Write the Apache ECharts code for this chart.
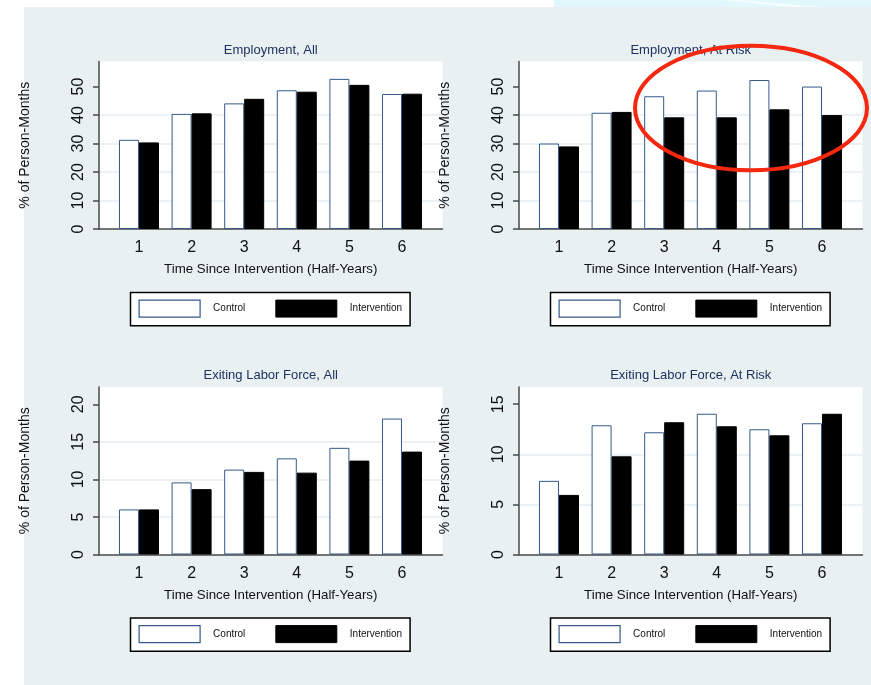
<!DOCTYPE html>
<html>
<head>
<meta charset="utf-8">
<script src="https://cdn.jsdelivr.net/npm/echarts@6/dist/echarts.min.js"></script>
<style>
  html, body { margin: 0; padding: 0; background: #ffffff; }
  #chart { width: 871px; height: 685px; }
</style>
</head>
<body>
<div id="chart"></div>
<script>
// Half-year periods since the intervention
const halfYears = ['1', '2', '3', '4', '5', '6'];

// Employment, all participants (% of person-months)
const empAllControl      = [31.3, 40.4, 44.1, 48.7, 52.7, 47.4];
const empAllIntervention = [30.4, 40.6, 45.7, 48.2, 50.6, 47.5];

// Employment, at-risk participants
const empRiskControl      = [30.0, 40.8, 46.6, 48.6, 52.3, 50.0];
const empRiskIntervention = [29.0, 41.1, 39.2, 39.2, 42.0, 40.0];

// Exiting the labor force, all participants
const exitAllControl      = [6.0, 9.6, 11.3, 12.8, 14.2, 18.1];
const exitAllIntervention = [6.0, 8.7, 11.0, 10.9, 12.5, 13.7];

// Exiting the labor force, at-risk participants
const exitRiskControl      = [7.35, 12.9, 12.2, 14.05, 12.5, 13.1];
const exitRiskIntervention = [5.95, 9.8, 13.2, 12.8, 11.9, 14.05];

// Panel titles and y-axis tick labels
const panelTitles = ['Employment, All', 'Employment, At Risk', 'Exiting Labor Force, All', 'Exiting Labor Force, At Risk'];
const ticksEmployment = [0, 10, 20, 30, 40, 50];
const ticksExitAll    = [0, 5, 10, 15, 20];
const ticksExitRisk   = [0, 5, 10, 15];

const seriesNames = ['Control', 'Intervention'];
const xAxisName = 'Time Since Intervention (Half-Years)';
const yAxisName = '% of Person-Months';

const FONT = "'Liberation Sans', Arial, Helvetica, sans-serif";
const BG = '#e8f0f2';
const AXIS = '#4a4a4a';
const CONTROL_EDGE = '#34598a';

// Panel layout: plot-region placement and y-axis extent
const panels = [
  { left: 99,  top: 61.5, yMax: 58.8, ticks: ticksEmployment, step: 10, control: empAllControl,   intervention: empAllIntervention },
  { left: 519, top: 61.5, yMax: 58.8, ticks: ticksEmployment, step: 10, control: empRiskControl,  intervention: empRiskIntervention },
  { left: 99,  top: 387,  yMax: 22.3, ticks: ticksExitAll,    step: 5,  control: exitAllControl,  intervention: exitAllIntervention },
  { left: 519, top: 387,  yMax: 16.72, ticks: ticksExitRisk,  step: 5,  control: exitRiskControl, intervention: exitRiskIntervention }
];
const PLOT_W = 343.5;
const PLOT_H = 167.5;

const toPoints = arr => arr.map((v, i) => [i + 1, v]);

const grid = [], xAxis = [], yAxis = [], series = [], title = [], legend = [];

panels.forEach((p, i) => {
  grid.push({
    left: p.left, top: p.top, width: PLOT_W, height: PLOT_H,
    show: true, backgroundColor: '#ffffff', borderWidth: 0
  });

  title.push({
    text: panelTitles[i],
    left: p.left + PLOT_W / 2,
    top: p.top - 18,
    textAlign: 'center',
    padding: 0,
    textStyle: { fontFamily: FONT, fontSize: 13, fontWeight: 'normal', color: '#1f3160' }
  });

  xAxis.push({
    gridIndex: i,
    type: 'value',
    min: 0.24,
    max: 6.77,
    name: xAxisName,
    nameLocation: 'middle',
    nameGap: 34,
    nameTextStyle: { fontFamily: FONT, fontSize: 13.3, color: '#111111' },
    axisLine: { show: true, onZero: false, lineStyle: { color: AXIS, width: 1.5 } },
    axisTick: { show: false },
    splitLine: { show: false },
    axisLabel: {
      customValues: [1, 2, 3, 4, 5, 6],
      formatter: v => halfYears[Math.round(v) - 1] || '',
      margin: 11,
      fontFamily: FONT, fontSize: 16, color: '#111111'
    }
  });

  yAxis.push({
    gridIndex: i,
    type: 'value',
    min: 0,
    max: p.yMax,
    interval: p.step,
    name: yAxisName,
    nameLocation: 'middle',
    nameGap: 67,
    nameTextStyle: { fontFamily: FONT, fontSize: 14, color: '#111111' },
    axisLine: { show: true, lineStyle: { color: AXIS, width: 1.5 } },
    axisTick: { show: true, customValues: p.ticks, length: 6, lineStyle: { color: AXIS, width: 1.5 } },
    axisLabel: {
      customValues: p.ticks,
      rotate: 90,
      margin: 12,
      fontFamily: FONT, fontSize: 16, color: '#111111'
    },
    splitLine: { show: true, showMaxLine: false, showMinLine: false, lineStyle: { color: '#e4edf0', width: 1.5 } }
  });

  series.push({
    name: seriesNames[0], type: 'bar', xAxisIndex: i, yAxisIndex: i,
    barWidth: 20, barGap: '0%',
    itemStyle: { color: '#ffffff', borderColor: CONTROL_EDGE, borderWidth: 1 },
    emphasis: { disabled: true },
    data: toPoints(p.control)
  });
  series.push({
    name: seriesNames[1], type: 'bar', xAxisIndex: i, yAxisIndex: i,
    barWidth: 20, barGap: '0%',
    itemStyle: { color: '#000000', borderColor: '#000000', borderWidth: 1 },
    emphasis: { disabled: true },
    data: toPoints(p.intervention)
  });

  legend.push({
    left: p.left + 31.5,
    top: p.top + 231,
    orient: 'horizontal',
    selectedMode: false,
    backgroundColor: '#ffffff',
    borderColor: '#000000',
    borderWidth: 1.5,
    padding: [7, 8, 8, 8],
    itemWidth: 61,
    itemHeight: 17,
    itemGap: 30,
    icon: 'rect',
    textStyle: { fontFamily: FONT, fontSize: 10, color: '#111111', padding: [0, 0, 0, 8] },
    data: [
      { name: seriesNames[0], itemStyle: { color: '#ffffff', borderColor: CONTROL_EDGE, borderWidth: 1.2 } },
      { name: seriesNames[1], itemStyle: { color: '#000000', borderColor: '#000000', borderWidth: 1 } }
    ]
  });
});

const chart = echarts.init(document.getElementById('chart'), null, { renderer: 'canvas' });
chart.setOption({
  animation: false,
  backgroundColor: '#ffffff',
  graphic: [
    // faint cyan backdrop along the top edge
    { type: 'rect', z: -10, silent: true,
      shape: { x: 554, y: 0, width: 317, height: 7 }, style: { fill: '#e0f8fb' } },
    { type: 'polygon', z: -9, silent: true,
      shape: { points: [[722, 0], [742, 0], [820, 7], [790, 7]] }, style: { fill: '#f6fdfe' } },
    // page panel behind the four plots
    { type: 'rect', z: -8, silent: true, shape: { x: 24, y: 7, width: 847, height: 678 }, style: { fill: BG } },
    // hand-drawn emphasis ring around the later at-risk employment periods
    { type: 'ellipse', z: 100, silent: true, shape: { cx: 751, cy: 108, rx: 116, ry: 62.3 },
      style: { fill: 'none', stroke: '#f3280f', lineWidth: 4 } }
  ],
  title, grid, xAxis, yAxis, legend, series
});
</script>
</body>
</html>
